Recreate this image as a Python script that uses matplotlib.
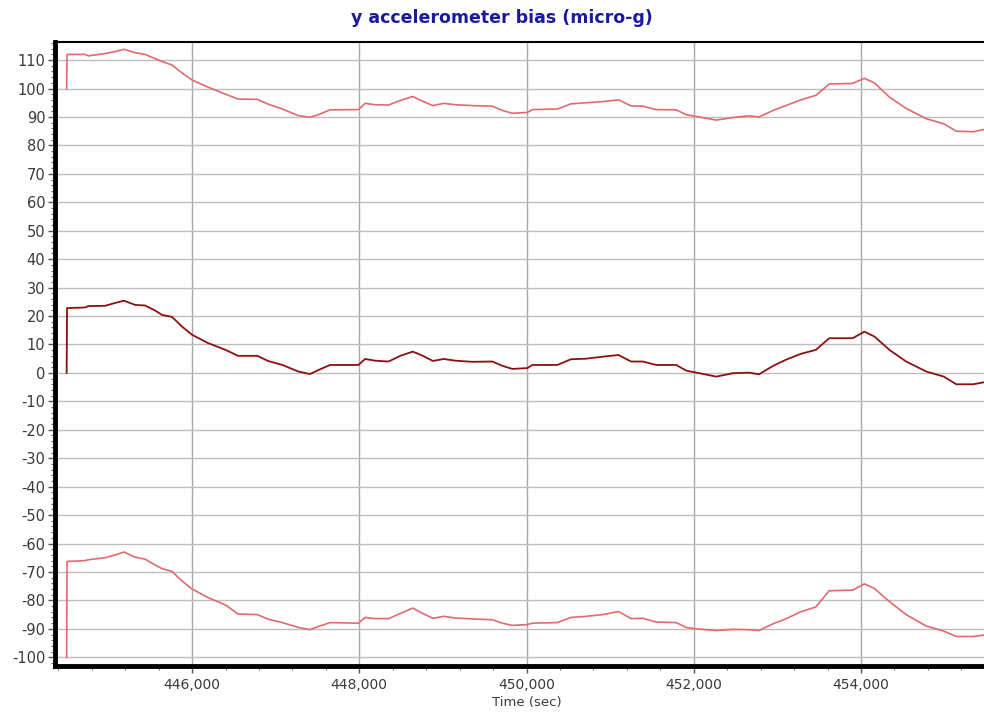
import matplotlib.pyplot as plt
from matplotlib.ticker import MultipleLocator, FuncFormatter

plt.rcParams['axes.unicode_minus'] = False

# time stamps (sec) shared by the three bias traces
time_sec = [444500, 444505, 444720, 444760, 444960, 445080, 445185, 445320, 445440,
            445560, 445640, 445760, 445880, 446000, 446190, 446400, 446550, 446780,
            446910, 447080, 447270, 447410, 447510, 447650, 447990, 448070, 448190,
            448350, 448490, 448640, 448760, 448880, 449010, 449150, 449350, 449590,
            449710, 449830, 450010, 450070, 450370, 450530, 450710, 450910, 451100,
            451250, 451390, 451550, 451790, 451910, 452030, 452270, 452470, 452660,
            452780, 452950, 453100, 453280, 453460, 453620, 453900, 454040, 454160,
            454340, 454540, 454780, 454990, 455140, 455340, 455470]

# estimated bias
bias_est = [0, 22.8, 23.0, 23.5, 23.6, 24.6, 25.4, 23.9, 23.7,
            21.9, 20.4, 19.7, 16.3, 13.4, 10.5, 8.1, 6.0, 6.0,
            4.2, 2.8, 0.5, -0.4, 1.0, 2.8, 2.8, 4.9, 4.3,
            4.0, 6.0, 7.5, 6.0, 4.2, 4.9, 4.3, 3.9, 4.0,
            2.5, 1.4, 1.7, 2.8, 2.8, 4.8, 5.0, 5.7, 6.3,
            4.0, 4.0, 2.8, 2.8, 0.8, 0.1, -1.3, -0.1, 0.1,
            -0.5, 2.5, 4.6, 6.7, 8.1, 12.2, 12.2, 14.5, 12.8,
            8.1, 4.0, 0.5, -1.3, -4.0, -4.0, -3.3]

# upper bound
bias_upper = [100, 112.0, 112.0, 111.5, 112.3, 113.0, 113.8, 112.6, 112.0,
              110.5, 109.5, 108.3, 105.5, 103.0, 100.5, 98.0, 96.3, 96.2,
              94.5, 92.8, 90.5, 89.9, 90.8, 92.5, 92.6, 94.8, 94.3,
              94.2, 95.8, 97.2, 95.5, 94.0, 94.8, 94.3, 94.0, 93.8,
              92.3, 91.3, 91.6, 92.6, 92.8, 94.6, 95.0, 95.4, 96.0,
              93.9, 93.8, 92.6, 92.5, 90.8, 90.2, 88.9, 89.8, 90.4,
              90.0, 92.3, 94.0, 96.0, 97.6, 101.6, 101.8, 103.6, 102.0,
              97.0, 93.0, 89.4, 87.6, 85.0, 84.8, 85.6]

# lower bound
bias_lower = [-100, -66.3, -66.0, -65.7, -65.0, -64.0, -63.0, -64.8, -65.5,
              -67.6, -68.8, -69.8, -73.2, -76.0, -79.0, -81.6, -84.8, -85.0,
              -86.6, -87.8, -89.5, -90.3, -89.2, -87.8, -88.0, -86.0, -86.4,
              -86.4, -84.6, -82.7, -84.6, -86.3, -85.6, -86.2, -86.5, -86.8,
              -88.0, -88.8, -88.5, -88.0, -87.8, -86.0, -85.6, -85.0, -83.9,
              -86.4, -86.3, -87.6, -87.8, -89.5, -90.0, -90.6, -90.2, -90.3,
              -90.6, -88.2, -86.5, -84.0, -82.3, -76.6, -76.4, -74.2, -75.8,
              -80.4, -85.0, -89.0, -90.8, -92.7, -92.7, -92.2]

fig = plt.figure(figsize=(9.84, 7.15), dpi=100)
ax = fig.add_axes([0.056, 0.068, 0.944, 0.873])

ax.plot(time_sec, bias_upper, color='#e06a6e', lw=1.2, zorder=3)
ax.plot(time_sec, bias_est, color='#8b1010', lw=1.3, zorder=3)
ax.plot(time_sec, bias_lower, color='#e06a6e', lw=1.2, zorder=3)

ax.set_xlim(444362, 455471)
ax.set_ylim(-103.2, 116.3)

ax.xaxis.set_major_locator(MultipleLocator(2000))
ax.xaxis.set_minor_locator(MultipleLocator(400))
ax.yaxis.set_major_locator(MultipleLocator(10))
ax.yaxis.set_minor_locator(MultipleLocator(2))
ax.xaxis.set_major_formatter(FuncFormatter(lambda v, p: '{:,.0f}'.format(v)))

ax.grid(True, which='major', axis='y', color='#bdbdbd', lw=1.0)
ax.grid(True, which='major', axis='x', color='#a8a8a8', lw=1.0)
ax.set_axisbelow(True)

ax.tick_params(axis='both', which='major', direction='out', length=5, width=1,
               labelsize=10, labelcolor='#3a3a3a', color='#555555')
ax.tick_params(axis='both', which='minor', direction='out', length=3, width=0.8,
               color='#666666')
ax.tick_params(axis='y', pad=2, labelsize=10.5)

for side in ['left', 'bottom']:
    ax.spines[side].set_linewidth(3.5)
    ax.spines[side].set_color('black')
ax.spines['top'].set_linewidth(1.5)
ax.spines['right'].set_visible(False)

ax.set_xlabel('Time (sec)', fontsize=9.5, color='#3a3a3a', labelpad=0)
ax.xaxis.set_label_coords(0.508, -0.048)

fig.text(0.51, 0.975, 'y accelerometer bias (micro-g)', ha='center', va='center',
         fontsize=12.5, fontweight='bold', color='#1a1aa0')

fig.savefig('out.png', dpi=100)
